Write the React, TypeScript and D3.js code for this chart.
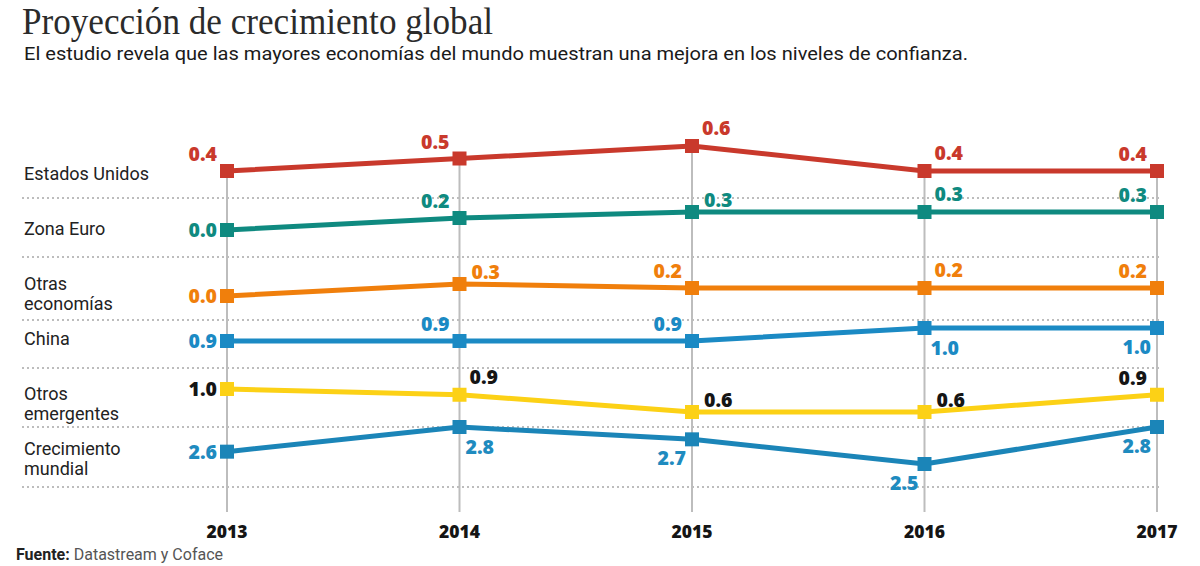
import { useRef, useEffect } from "react";
import * as d3 from "d3";

// años del eje horizontal
const years = ["2013", "2014", "2015", "2016", "2017"];

// proyecciones por región (%)
const estadosUnidos = [0.4, 0.5, 0.6, 0.4, 0.4];
const zonaEuro = [0.0, 0.2, 0.3, 0.3, 0.3];
const otrasEconomias = [0.0, 0.3, 0.2, 0.2, 0.2];
const china = [0.9, 0.9, 0.9, 1.0, 1.0];
const otrosEmergentes = [1.0, 0.9, 0.6, 0.6, 0.9];
const crecimientoMundial = [2.6, 2.8, 2.7, 2.5, 2.8];

const rowNames = [
  ["Estados Unidos"],
  ["Zona Euro"],
  ["Otras", "economías"],
  ["China"],
  ["Otros", "emergentes"],
  ["Crecimiento", "mundial"],
];

// layout de cada fila: rango vertical de la escala, color, posición de etiquetas
const rows = [
  { values: estadosUnidos, range: [171, 146], color: "#c9392c", text: "#c9392c", nameY: 180,
    place: ["tl", "tl", "tr", "tr", "tl"] },
  { values: zonaEuro, range: [230, 212], color: "#0f8a80", text: "#0f8a80", nameY: 235,
    place: ["l", "tl", "r", "tr", "tl"] },
  { values: otrasEconomias, range: [296, 284], color: "#f07f0c", text: "#f07f0c", nameY: 290,
    place: ["l", "r", "tl", "tr", "tl"] },
  { values: china, range: [341, 328], color: "#1b8ac4", text: "#1b8ac4", nameY: 345,
    place: ["l", "tl", "tl", "br", "bl"] },
  { values: otrosEmergentes, range: [412, 389], color: "#fcd116", text: "#151515", nameY: 400,
    place: ["l", "tr", "r", "r", "tl"] },
  { values: crecimientoMundial, range: [464, 427], color: "#1b85b8", text: "#1f8bbf", nameY: 455,
    place: ["l", "br", "bl", "bl", "bl"] },
];

const separators = [198, 257, 320, 368, 427, 487];

const offsets = {
  tl: { dx: -10, dy: -10, anchor: "end" },
  tr: { dx: 10, dy: -11, anchor: "start" },
  r: { dx: 12, dy: -5, anchor: "start" },
  l: { dx: -10, dy: 7, anchor: "end" },
  br: { dx: 6, dy: 27, anchor: "start" },
  bl: { dx: -6, dy: 26, anchor: "end" },
};

const sans = "Roboto, 'Noto Sans', sans-serif";
const bold = "'Open Sans', 'Noto Sans', sans-serif";

export default function App() {
  const ref = useRef<HTMLDivElement>(null);

  function init() {
    document.body.style.margin = "0";
    ref.current!.innerHTML = "";

    const width = 1200,
      height = 566;

    const svg = d3
      .select(ref.current)
      .append("svg")
      .attr("width", width)
      .attr("height", height)
      .style("background", "#fff");

    const x = d3.scalePoint().domain(years).range([227, 1157]);

    // Título
    svg.append("text")
      .attr("x", 22)
      .attr("y", 34)
      .attr("textLength", 471)
      .attr("lengthAdjust", "spacingAndGlyphs")
      .style("font-family", "'Liberation Serif', 'DejaVu Serif', serif")
      .style("font-size", "37px")
      .style("fill", "#2b2b2b")
      .text("Proyección de crecimiento global");

    svg.append("text")
      .attr("x", 24)
      .attr("y", 60)
      .attr("textLength", 944)
      .attr("lengthAdjust", "spacingAndGlyphs")
      .style("font-family", sans)
      .style("font-size", "18.5px")
      .style("fill", "#1a1a1a")
      .text(
        "El estudio revela que las mayores economías del mundo muestran una mejora en los niveles de confianza."
      );

    // Separadores punteados
    svg.append("g")
      .selectAll("line")
      .data(separators)
      .join("line")
      .attr("x1", 22)
      .attr("x2", 1162)
      .attr("y1", (d) => d)
      .attr("y2", (d) => d)
      .attr("stroke", "#a8a8a8")
      .attr("stroke-width", 1.5)
      .attr("stroke-dasharray", "2,3");

    const scales = rows.map((r) =>
      d3.scaleLinear().domain(d3.extent(r.values) as [number, number]).range(r.range)
    );

    // Líneas verticales por año
    svg.append("g")
      .selectAll("line")
      .data(years)
      .join("line")
      .attr("x1", (d) => x(d)!)
      .attr("x2", (d) => x(d)!)
      .attr("y1", (d, i) => scales[0](rows[0].values[i]))
      .attr("y2", 512)
      .attr("stroke", "#bdbdbd")
      .attr("stroke-width", 2);

    // Nombres de filas
    rows.forEach((r, i) => {
      const t = svg.append("text")
        .attr("x", 24)
        .attr("y", r.nameY)
        .style("font-family", sans)
        .style("font-size", "18px")
        .style("fill", "#222");
      rowNames[i].forEach((s, j) => {
        t.append("tspan").attr("x", 24).attr("dy", j === 0 ? 0 : 20).text(s);
      });
    });

    // Series
    rows.forEach((r, i) => {
      const y = scales[i];
      const pts = r.values.map((v, k) => ({ year: years[k], v, k }));
      const line = d3
        .line<{ year: string; v: number }>()
        .x((d) => x(d.year)!)
        .y((d) => y(d.v));

      const g = svg.append("g");
      g.append("path")
        .datum(pts)
        .attr("d", line)
        .attr("fill", "none")
        .attr("stroke", r.color)
        .attr("stroke-width", 5);

      g.selectAll("rect")
        .data(pts)
        .join("rect")
        .attr("x", (d) => x(d.year)! - 7)
        .attr("y", (d) => y(d.v) - 7)
        .attr("width", 14)
        .attr("height", 14)
        .attr("fill", r.color);

      g.selectAll("text")
        .data(pts)
        .join("text")
        .attr("x", (d) => x(d.year)! + offsets[r.place[d.k]].dx)
        .attr("y", (d) => y(d.v) + offsets[r.place[d.k]].dy)
        .attr("text-anchor", (d) => offsets[r.place[d.k]].anchor)
        .style("font-family", bold)
        .style("font-weight", 800)
        .style("font-size", "19.5px")
        .style("fill", r.text)
        .text((d) => d.v.toFixed(1));
    });

    // Eje de años
    svg.append("g")
      .selectAll("text")
      .data(years)
      .join("text")
      .attr("x", (d) => x(d)!)
      .attr("y", 538)
      .attr("text-anchor", "middle")
      .style("font-family", bold)
      .style("font-weight", 800)
      .style("font-size", "17.5px")
      .style("fill", "#151515")
      .text((d) => d);

    // Fuente
    const src = svg.append("text")
      .attr("x", 16)
      .attr("y", 560)
      .style("font-family", sans)
      .style("font-size", "16px")
      .style("fill", "#555");
    src.append("tspan").style("font-weight", 700).style("fill", "#222").text("Fuente: ");
    src.append("tspan").text("Datastream y Coface");
  }

  useEffect(init, []);

  return (
    <>
      <div ref={ref}></div>
    </>
  );
}
